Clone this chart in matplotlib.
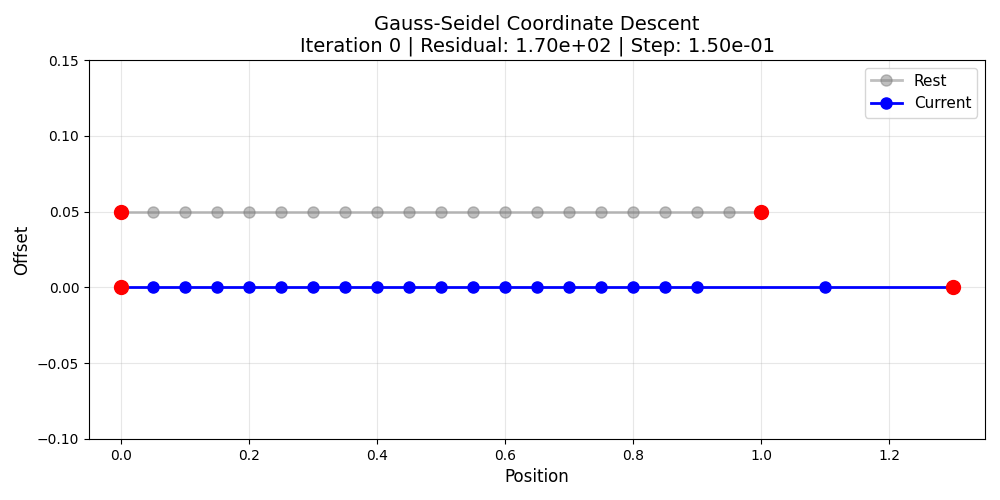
import numpy as np
import matplotlib.pyplot as plt

# data
rest_x = [0.0, 0.05, 0.1, 0.15, 0.2, 0.25, 0.3, 0.35, 0.4, 0.45, 0.5,
          0.55, 0.6, 0.65, 0.7, 0.75, 0.8, 0.85, 0.9, 0.95, 1.0]
rest_y = [0.05] * len(rest_x)
cur_x = [0.0, 0.05, 0.1, 0.15, 0.2, 0.25, 0.3, 0.35, 0.4, 0.45, 0.5,
         0.55, 0.6, 0.65, 0.7, 0.75, 0.8, 0.85, 0.9, 1.1, 1.3]
cur_y = [0.0] * len(cur_x)
iteration = 0
residual = 1.70e+02
step = 1.50e-01

fig, ax = plt.subplots(figsize=(10, 5), dpi=100)

ax.plot(rest_x, rest_y, 'o-', color='gray', alpha=0.5, lw=2, markersize=8, label='Rest')
ax.plot(cur_x, cur_y, 'o-', color='blue', lw=2, markersize=8, label='Current')

# fixed endpoints
ax.plot([rest_x[0], rest_x[-1]], [rest_y[0], rest_y[-1]], 'o', color='red', markersize=10, zorder=5)
ax.plot([cur_x[0], cur_x[-1]], [cur_y[0], cur_y[-1]], 'o', color='red', markersize=10, zorder=5)

ax.set_xlim(-0.05, 1.35)
ax.set_ylim(-0.1, 0.15)
ax.set_xlabel('Position', fontsize=12)
ax.set_ylabel('Offset', fontsize=12)
ax.set_title('Gauss-Seidel Coordinate Descent\nIteration %d | Residual: %.2e | Step: %.2e'
             % (iteration, residual, step), fontsize=14)
ax.grid(True, alpha=0.3)
ax.legend(loc='upper right', fontsize=11)

plt.subplots_adjust(left=0.089, right=0.985, top=0.88, bottom=0.122)
plt.savefig('out.png')
